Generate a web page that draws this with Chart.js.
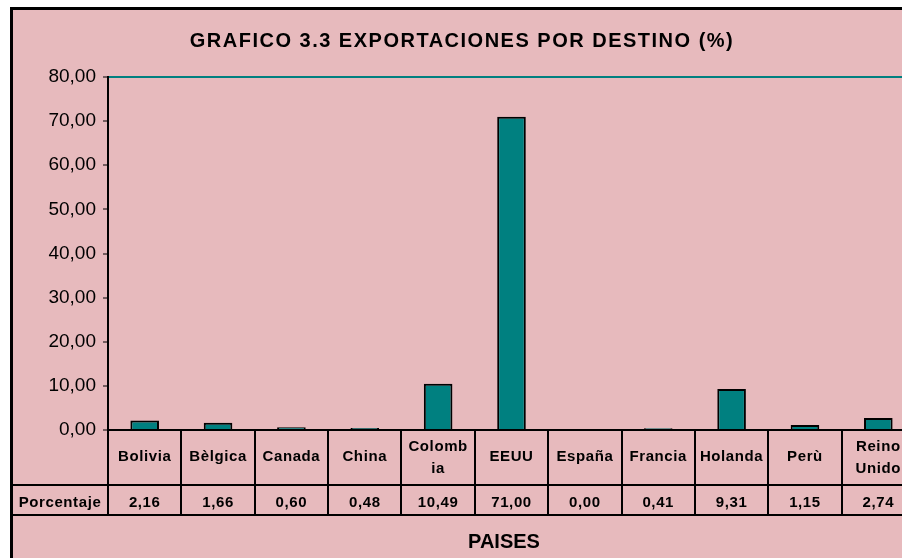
<!DOCTYPE html>
<html>
<head>
<meta charset="utf-8">
<script src="https://cdn.jsdelivr.net/npm/chart.js@4"></script>
<style>
  html, body { margin: 0; padding: 0; background: #fff; overflow: hidden; }
  #frame {
    position: absolute; left: 10px; top: 7px;
    width: 960px; height: 600px;
    border-left: 3px solid #000; border-top: 3px solid #000;
    background: #e7babd;
  }
  #chart { position: absolute; left: 0; top: 0; }
</style>
</head>
<body>
<div id="frame"><canvas id="chart" width="930" height="548"></canvas></div>
<script>
// data
const categories = ["Bolivia", "Bèlgica", "Canada", "China", ["Colomb", "ia"], "EEUU", "España", "Francia", "Holanda", "Perù", ["Reino", "Unido"]];
const porcentaje = [2.16, 1.66, 0.60, 0.48, 10.49, 71.00, 0.00, 0.41, 9.31, 1.15, 2.74];
const yTicks = [0, 10, 20, 30, 40, 50, 60, 70, 80];
const rowLabel = "Porcentaje";
const chartTitle = "GRAFICO 3.3 EXPORTACIONES POR DESTINO (%)";
const axisTitle = "PAISES";

const fmt = v => v.toFixed(2).replace(".", ",");
const FONT = "'Liberation Sans', Arial, sans-serif";

// draws the title, the data table under the axis and the axis title
const tablePlugin = {
    id: "dataTable",
    afterDraw(chart) {
        const ctx = chart.ctx;
        const area = chart.chartArea;
        const xs = chart.scales.x;
        const n = categories.length;
        const w = (area.right - area.left) / n;
        const rowTop = area.bottom, rowMid = 475, rowBot = 505;

        ctx.save();
        ctx.fillStyle = "#000";
        ctx.textAlign = "center";
        ctx.textBaseline = "middle";

        ctx.font = "bold 20px " + FONT;
        ctx.letterSpacing = "1.5px";
        ctx.fillText(chartTitle, 449, 31);

        ctx.strokeStyle = "#000";
        ctx.lineWidth = 2;
        ctx.beginPath();
        ctx.moveTo(0, rowMid); ctx.lineTo(chart.width, rowMid);
        ctx.moveTo(0, rowBot); ctx.lineTo(chart.width, rowBot);
        for (let i = 0; i <= n; i++) {
            const x = Math.round(area.left + i * w);
            ctx.moveTo(x, rowTop); ctx.lineTo(x, rowBot);
        }
        ctx.stroke();

        ctx.font = "bold 15px " + FONT;
        ctx.letterSpacing = "0.6px";
        categories.forEach((c, i) => {
            const x = xs.getPixelForValue(i);
            if (Array.isArray(c)) {
                ctx.fillText(c[0], x, 437);
                ctx.fillText(c[1], x, 459);
            } else {
                ctx.fillText(c, x, 447);
            }
            ctx.fillText(fmt(porcentaje[i]), x, 493);
        });
        ctx.fillText(rowLabel, 47, 493);

        ctx.letterSpacing = "0px";
        ctx.font = "bold 20px " + FONT;
        ctx.fillText(axisTitle, 491, 532);
        ctx.restore();
    }
};

new Chart(document.getElementById("chart"), {
    type: "bar",
    data: {
        labels: categories,
        datasets: [{
            label: rowLabel,
            data: porcentaje,
            backgroundColor: "#008080",
            borderColor: "#000",
            borderWidth: 2,
            barPercentage: 0.39,
            categoryPercentage: 1
        }]
    },
    options: {
        responsive: false,
        animation: false,
        layout: { padding: { top: 67, right: 28, left: 0, bottom: 0 } },
        plugins: {
            legend: { display: false },
            title: { display: false },
            tooltip: { enabled: false }
        },
        scales: {
            x: {
                afterFit: s => { s.height = 128; },
                ticks: { display: false },
                grid: { display: false },
                border: { display: true, color: "#000", width: 2 }
            },
            y: {
                min: 0, max: 80,
                afterFit: s => { s.width = 95; },
                afterBuildTicks: s => { s.ticks = yTicks.map(v => ({ value: v })); },
                ticks: {
                    color: "#000",
                    padding: 7,
                    font: { family: FONT, size: 19 },
                    callback: v => fmt(v)
                },
                grid: {
                    color: c => (c.tick && c.tick.value === 80) ? "#008080" : "transparent",
                    lineWidth: 2,
                    tickColor: "#000",
                    tickLength: 5,
                    tickWidth: 1
                },
                border: { color: "#000", width: 2 }
            }
        }
    },
    plugins: [tablePlugin]
});
</script>
</body>
</html>
